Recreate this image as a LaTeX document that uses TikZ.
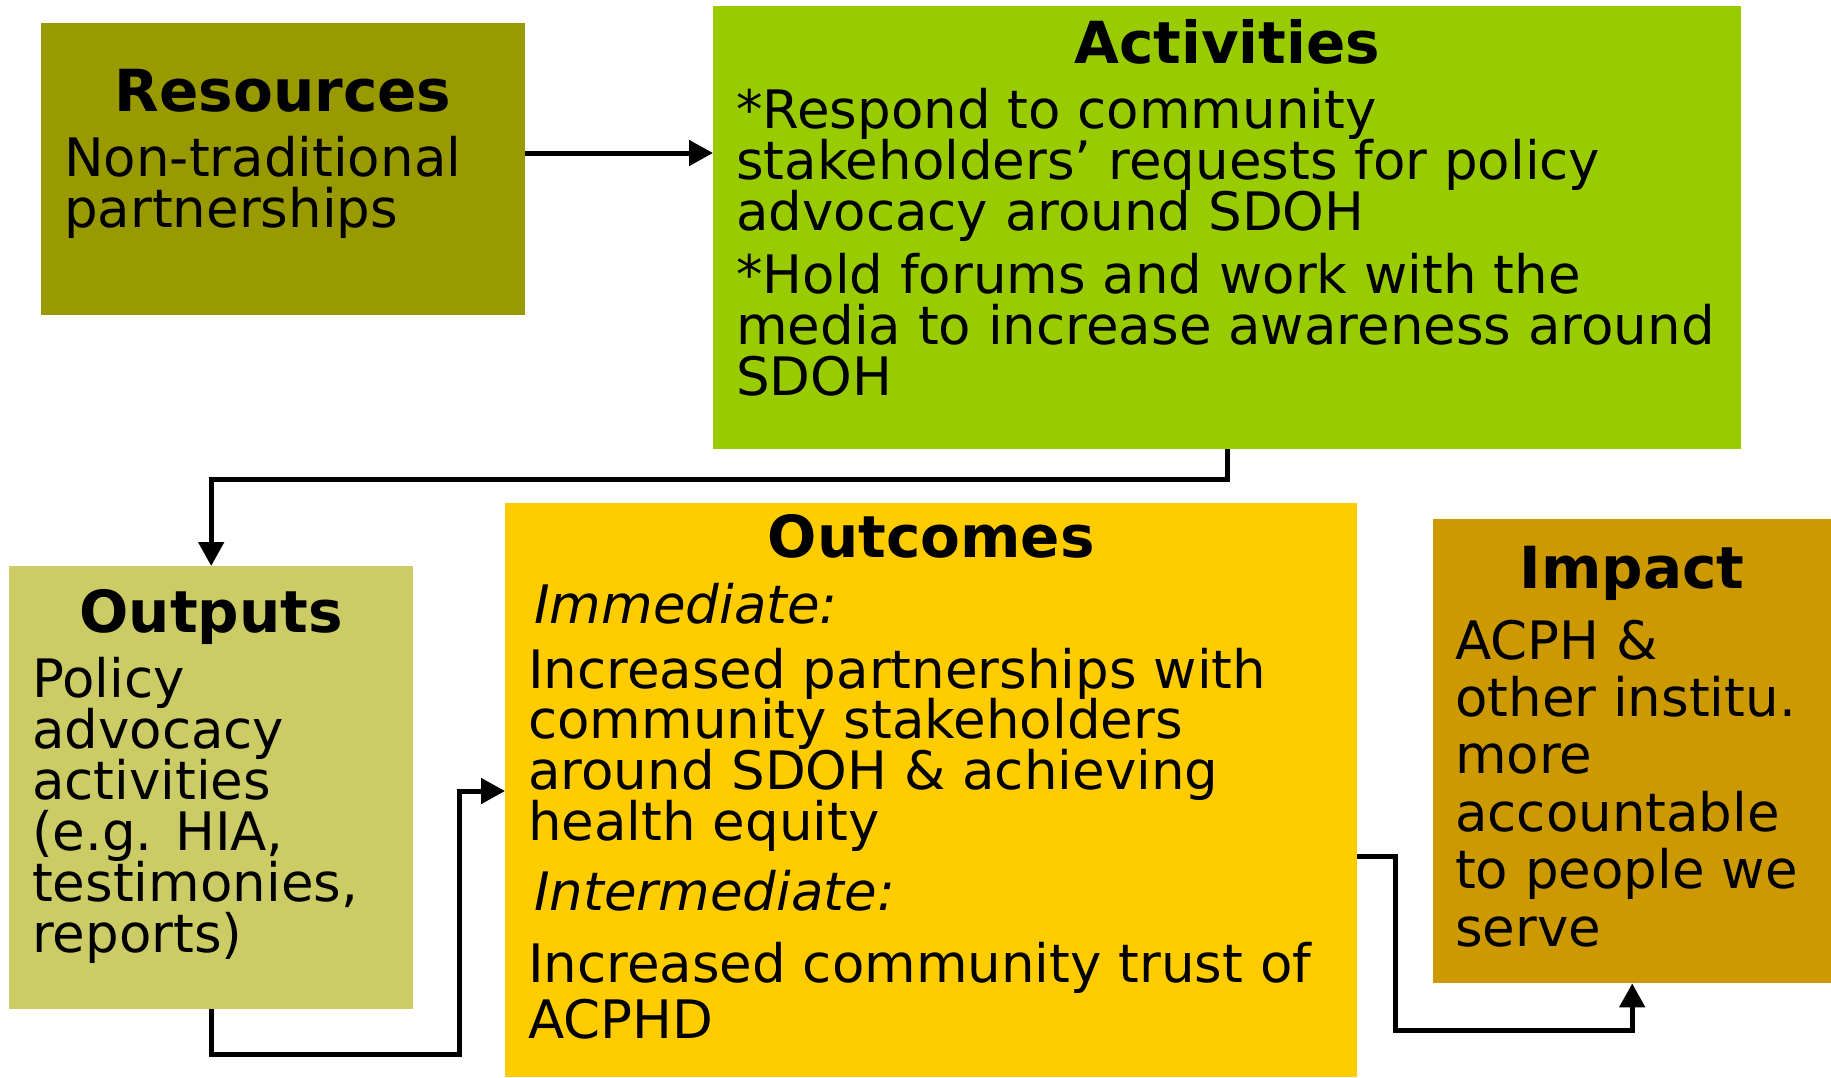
\documentclass[tikz,border=0pt]{standalone}
\usepackage{fontspec}
\setmainfont{DejaVu Sans}
\usetikzlibrary{arrows.meta}
\definecolor{cres}{HTML}{999900}
\definecolor{cact}{HTML}{99CC00}
\definecolor{cout}{HTML}{CCCC66}
\definecolor{coutc}{HTML}{FFCC00}
\definecolor{cimp}{HTML}{CC9900}
\tikzset{
  box/.style={rectangle, draw=none, inner sep=0pt, anchor=north west},
  ttl/.style={anchor=base, inner sep=0pt, font=\bfseries\fontsize{58}{60}\selectfont},
  txt/.style={anchor=base west, inner sep=0pt, font=\fontsize{53}{51}\selectfont},
  itx/.style={txt, font=\itshape\fontsize{53}{51}\selectfont},
  arr/.style={line width=5pt, -{Triangle[length=24pt,width=25pt]}}
}
\begin{document}
\begin{tikzpicture}[x=1pt,y=-1pt]
\useasboundingbox (0,0) rectangle (1831,1077);
% boxes
\node[box, fill=cres, minimum width=484pt, minimum height=292pt] (res) at (41,23) {};
\node[box, fill=cact, minimum width=1028pt, minimum height=443pt] (act) at (713,6) {};
\node[box, fill=cout, minimum width=404pt, minimum height=443pt] (out) at (9,566) {};
\node[box, fill=coutc, minimum width=852pt, minimum height=574pt] (outc) at (505,503) {};
\node[box, fill=cimp, minimum width=398pt, minimum height=464pt] (imp) at (1433,519) {};
% titles
\node[ttl] (restitle) at (res.north |- 0,111) {Resources};
\node[ttl] (acttitle) at (act.north |- 0,63) {Activities};
\node[ttl] (outtitle) at (out.north |- 0,632) {Outputs};
\node[ttl] (outctitle) at (outc.north |- 0,557) {Outcomes};
\node[ttl] (imptitle) at (imp.north |- 0,588) {Impact};
% resources text
\foreach \t [count=\i] in {Non-traditional, partnerships}
  \node[txt] (rest\i) at (64,{176+51*(\i-1)}) {\t};
% activities text
\foreach \t [count=\i] in {*Respond to community, stakeholders’ requests for policy, advocacy around SDOH}
  \node[txt] (acta\i) at (736,{128+51*(\i-1)}) {\t};
\foreach \t [count=\i] in {*Hold forums and work with the, media to increase awareness around, SDOH}
  \node[txt] (actb\i) at (736,{293+51*(\i-1)}) {\t};
% outputs text
\foreach \t [count=\i] in {Policy, advocacy, activities, {(e.g. HIA,}, {testimonies,}, reports)}
  \node[txt] (outt\i) at (32,{697+51*(\i-1)}) {\t};
% outcomes text
\node[itx] (imm) at (534,623) {Immediate:};
\foreach \t [count=\i] in {Increased partnerships with, community stakeholders, around SDOH \& achieving, health equity}
  \node[txt] (outca\i) at (528,{688+50.7*(\i-1)}) {\t};
\node[itx] (inter) at (534,910) {Intermediate:};
\node[txt] (outcb1) at (528,982) {Increased community trust of};
\node[txt] (outcb2) at (528,1038) {ACPHD};
% impact text
\foreach \t [count=\i] in {ACPH \&, other institu., more, accountable, to people we, serve}
  \node[txt] (impt\i) at (1455,{659+57.4*(\i-1)}) {\t};
% connectors
\draw[arr] (res.east |- 0,153) -- (act.west |- 0,153);
\draw[arr] (act.south) -- ++(0,30) -| (out.north);
\coordinate (k1) at (459,1054);
\draw[arr] (out.south) |- (k1) |- (outc.west |- 0,791);
\coordinate (k2) at (1395,1030);
\draw[arr] (outc.east |- 0,856) -| (k2) -| (imp.south);
\end{tikzpicture}
\end{document}
